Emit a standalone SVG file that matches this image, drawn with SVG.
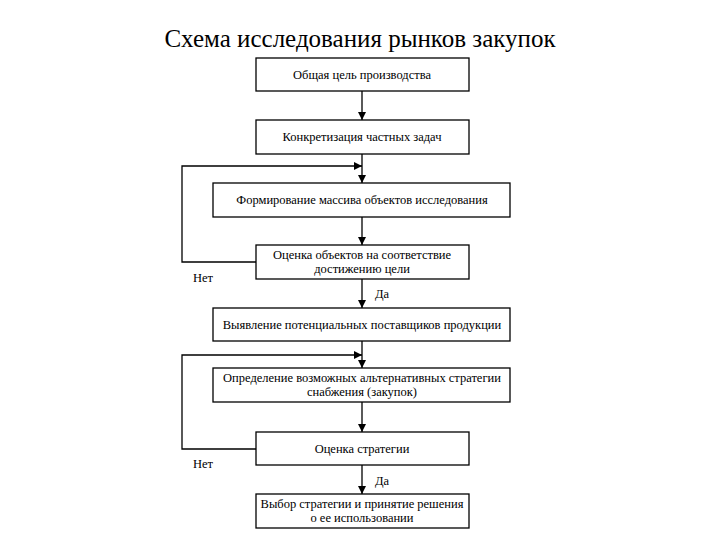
<svg xmlns="http://www.w3.org/2000/svg" width="720" height="540" viewBox="0 0 720 540">
<defs>
<marker id="ah" viewBox="0 0 10 10" refX="10" refY="5" markerWidth="8" markerHeight="8" markerUnits="userSpaceOnUse" orient="auto">
<path d="M0,0 L10,5 L0,10 Z" fill="#000"/>
</marker>
</defs>
<style>
.box{fill:#fff;stroke:#000;stroke-width:1.3}
.t{font-family:"Liberation Serif","Times New Roman","DejaVu Serif",serif;font-size:12.5px;text-anchor:middle;fill:#000}
.lbl{font-family:"Liberation Serif","Times New Roman","DejaVu Serif",serif;font-size:12.5px;fill:#000}
.title{font-family:"Liberation Serif","Times New Roman","DejaVu Serif",serif;font-size:25px;text-anchor:middle;fill:#000}
.c{fill:none;stroke:#000;stroke-width:1.3}
</style>
<rect width="720" height="540" fill="#fff"/>
<text class="title" x="360" y="47">Схема исследования рынков закупок</text>
<g id="connectors">
<line class="c" x1="362" y1="91" x2="362" y2="120" marker-end="url(#ah)"/>
<line class="c" x1="362" y1="154" x2="362" y2="183" marker-end="url(#ah)"/>
<polyline class="c" points="256,262 182,262 182,166 362,166" marker-end="url(#ah)"/>
<line class="c" x1="362" y1="217" x2="362" y2="245" marker-end="url(#ah)"/>
<line class="c" x1="362" y1="279" x2="362" y2="308" marker-end="url(#ah)"/>
<line class="c" x1="362" y1="341" x2="362" y2="368" marker-end="url(#ah)"/>
<polyline class="c" points="256,449 182,449 182,355 362,355" marker-end="url(#ah)"/>
<line class="c" x1="362" y1="402" x2="362" y2="432" marker-end="url(#ah)"/>
<line class="c" x1="362" y1="465" x2="362" y2="494" marker-end="url(#ah)"/>
<text class="lbl" x="193" y="282">Нет</text>
<text class="lbl" x="375" y="298">Да</text>
<text class="lbl" x="193" y="468">Нет</text>
<text class="lbl" x="375" y="485">Да</text>
</g>
<g id="n1"><rect class="box" x="256" y="58" width="213" height="33"/><text class="t" x="362" y="79">Общая цель производства</text></g>
<g id="n2"><rect class="box" x="256" y="120" width="213" height="34"/><text class="t" x="362" y="141">Конкретизация частных задач</text></g>
<g id="n3"><rect class="box" x="213" y="183" width="297" height="34"/><text class="t" x="362" y="204">Формирование массива объектов исследования</text></g>
<g id="n4"><rect class="box" x="256" y="245" width="213" height="34"/><text class="t" x="362" y="259">Оценка объектов на соответствие</text><text class="t" x="362" y="273">достижению цели</text></g>
<g id="n5"><rect class="box" x="213" y="308" width="297" height="33"/><text class="t" x="362" y="329">Выявление потенциальных поставщиков продукции</text></g>
<g id="n6"><rect class="box" x="213" y="368" width="297" height="34"/><text class="t" x="362" y="382">Определение возможных альтернативных стратегии</text><text class="t" x="362" y="396">снабжения (закупок)</text></g>
<g id="n7"><rect class="box" x="256" y="432" width="213" height="33"/><text class="t" x="362" y="453">Оценка стратегии</text></g>
<g id="n8"><rect class="box" x="256" y="494" width="213" height="34"/><text class="t" x="362" y="508">Выбор стратегии и принятие решения</text><text class="t" x="362" y="522">о ее использовании</text></g>
</svg>
